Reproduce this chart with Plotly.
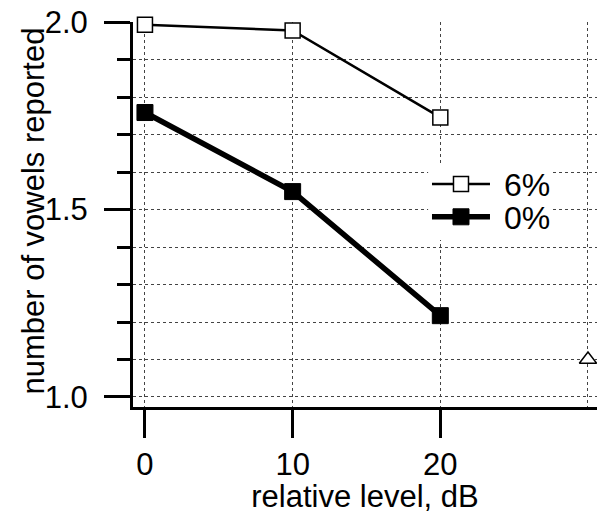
import plotly.graph_objects as go

# data
levels = [0, 10, 20]
vowels_6pct = [1.993, 1.978, 1.746]
vowels_0pct = [1.759, 1.548, 1.217]
extra_x = [30]
extra_y = [1.1]
x_ticks = [0, 10, 20]
x_tick_labels = ["0", "10", "20"]
y_title = "number of vowels reported"

FONT = "Liberation Sans, Arial, sans-serif"
GRID = "#444"

fig = go.Figure()
fig.add_trace(go.Scatter(
    x=levels, y=vowels_6pct, name="\u00a06%", mode="lines+markers",
    line=dict(color="black", width=2.5),
    marker=dict(symbol="square", size=15, color="white", line=dict(color="black", width=1.5)),
    cliponaxis=False, legend="legend",
))
fig.add_trace(go.Scatter(
    x=levels, y=vowels_0pct, name="\u00a00%", mode="lines+markers",
    line=dict(color="black", width=5.5),
    marker=dict(symbol="square", size=16, color="black", line=dict(color="black", width=1)),
    cliponaxis=False, legend="legend2",
))
fig.add_trace(go.Scatter(
    x=extra_x, y=extra_y, mode="markers", showlegend=False,
    marker=dict(symbol="triangle-up", size=15, color="white", line=dict(color="black", width=1.5)),
    cliponaxis=False,
))

leg_common = dict(xanchor="left", yanchor="middle", bgcolor="rgba(0,0,0,0)", borderwidth=0,
                  itemwidth=58, font=dict(size=32))

fig.update_layout(
    width=597, height=514,
    margin=dict(l=133, r=0, t=22, b=107, autoexpand=False),
    paper_bgcolor="white", plot_bgcolor="white",
    font=dict(family=FONT, size=31, color="black"),
    legend=dict(x=0.6336, y=0.579, **leg_common),
    legend2=dict(x=0.6336, y=0.4935, **leg_common),
    shapes=[dict(type="rect", xref="paper", yref="paper", x0=0.636, x1=0.903,
                 y0=0.434, y1=0.6286, fillcolor="white", line=dict(width=0), layer="above")],
    annotations=[dict(text=y_title, textangle=-90, xref="paper", yref="paper",
                      x=-0.2135, y=0.51, xanchor="center", yanchor="middle",
                      showarrow=False, font=dict(size=31))],
    xaxis=dict(
        range=[-0.81, 30.61],
        tickmode="array", tickvals=x_ticks, ticktext=x_tick_labels,
        ticks="outside", ticklen=28, tickwidth=3, tickcolor="black",
        ticklabeloverflow="allow",
        showline=True, linewidth=3, linecolor="black",
        showgrid=True, gridcolor=GRID, gridwidth=1, griddash="dot",
        minor=dict(tickmode="array", tickvals=[30], showgrid=True,
                   gridcolor=GRID, gridwidth=1, griddash="dot", ticks=""),
        zeroline=False, automargin=False,
        title=dict(text="relative level, dB", font=dict(size=31), standoff=0),
    ),
    yaxis=dict(
        range=[0.9733, 2.0005],
        tickmode="linear", tick0=1.0, dtick=0.5, tickformat=".1f",
        ticks="outside", ticklen=26, tickwidth=3, tickcolor="black",
        ticklabelstandoff=10, ticklabeloverflow="allow",
        showline=True, linewidth=3, linecolor="black",
        showgrid=True, gridcolor=GRID, gridwidth=1, griddash="dot",
        minor=dict(tick0=1.0, dtick=0.1, ticks="outside", ticklen=13, tickwidth=3,
                   tickcolor="black", showgrid=True, gridcolor=GRID, gridwidth=1, griddash="dot"),
        zeroline=False, automargin=False,
    ),
)

fig.write_html(
    "out.html",
    config={"displayModeBar": False},
    post_script="document.body.style.margin='0';document.body.style.overflow='hidden';",
)
